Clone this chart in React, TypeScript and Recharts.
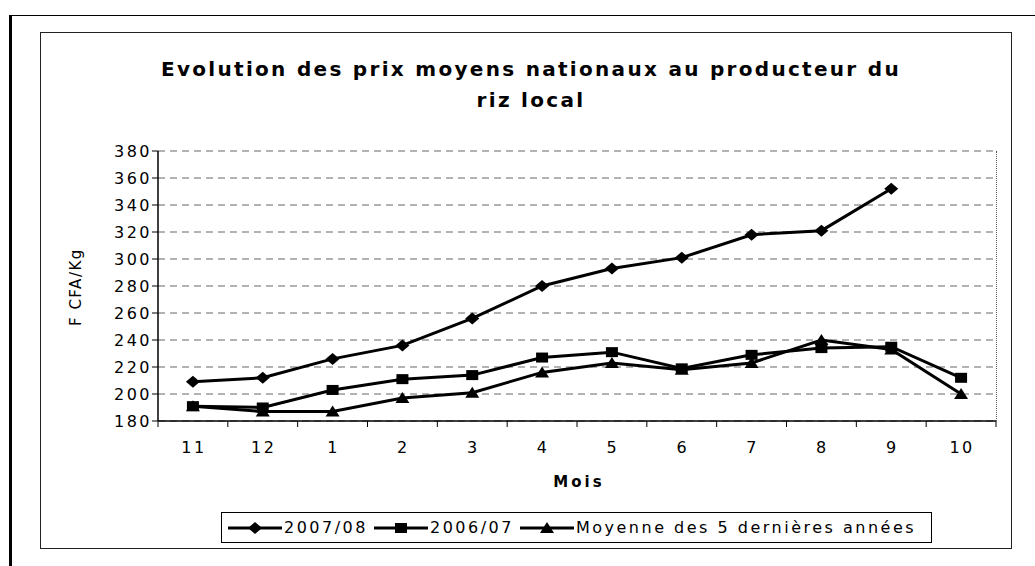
import React from "react";
import { CartesianGrid, Line, LineChart, XAxis, YAxis } from "recharts";

// months of the campaign, November to October
const months = ["11", "12", "1", "2", "3", "4", "5", "6", "7", "8", "9", "10"];
const prix2007_08 = [209, 212, 226, 236, 256, 280, 293, 301, 318, 321, 352, null];
const prix2006_07 = [191, 190, 203, 211, 214, 227, 231, 219, 229, 234, 235, 212];
const moyenne5ans = [191, 187, 187, 197, 201, 216, 223, 218, 223, 240, 233, 200];
const yTicks = [180, 200, 220, 240, 260, 280, 300, 320, 340, 360, 380];

const series = [
  { key: "a", name: "2007/08", values: prix2007_08, marker: "diamond" },
  { key: "b", name: "2006/07", values: prix2006_07, marker: "square" },
  { key: "c", name: "Moyenne des 5 dernières années", values: moyenne5ans, marker: "triangle" },
];

const chartData = months.map((m, i) => {
  const row: Record<string, any> = { mois: m };
  series.forEach((s) => (row[s.key] = s.values[i]));
  return row;
});

const FONT = "'DejaVu Sans', Verdana, sans-serif";
const BAND = 838 / 12;

const Marker = ({ cx, cy, kind }: { cx: number; cy: number; kind: string }) => {
  if (cx == null || cy == null) return null;
  if (kind === "diamond")
    return (
      <polygon
        points={`${cx},${cy - 6} ${cx + 7},${cy} ${cx},${cy + 6} ${cx - 7},${cy}`}
        fill="#000"
      />
    );
  if (kind === "square")
    return <rect x={cx - 6} y={cy - 5} width={12} height={10} fill="#000" />;
  return (
    <polygon
      points={`${cx},${cy - 6} ${cx + 7},${cy + 5} ${cx - 7},${cy + 5}`}
      fill="#000"
    />
  );
};

const dotFor = (kind: string) => (props: any) => (
  <Marker key={`${kind}-${props.index}`} cx={props.cx} cy={props.cy} kind={kind} />
);

// category label in the middle, tick marks on band boundaries like Excel
const MonthTick = (props: any) => {
  const { x, y, payload, index } = props;
  const left = x - BAND / 2;
  return (
    <g>
      <line x1={left} y1={y - 8} x2={left} y2={y - 2} stroke="#000" />
      {index === months.length - 1 && (
        <line x1={x + BAND / 2} y1={y - 8} x2={x + BAND / 2} y2={y - 2} stroke="#000" />
      )}
      <text
        x={x + 1}
        y={y + 24}
        textAnchor="middle"
        fontFamily={FONT}
        fontSize={16}
        letterSpacing={2.5}
        fill="#000"
      >
        {payload.value}
      </text>
    </g>
  );
};

const PriceTick = (props: any) => {
  const { x, y, payload } = props;
  return (
    <text
      x={x + 2}
      y={y + 6}
      textAnchor="end"
      fontFamily={FONT}
      fontSize={16}
      letterSpacing={2.5}
      fill="#000"
    >
      {payload.value}
    </text>
  );
};

const LegendBox = () => (
  <div
    style={{
      position: "absolute",
      left: 221,
      top: 512,
      width: 711,
      height: 31,
      border: "1px solid #000",
      display: "flex",
      alignItems: "center",
      paddingLeft: 6,
      fontFamily: FONT,
      fontSize: 16,
      letterSpacing: 2.5,
      whiteSpace: "nowrap",
      color: "#000",
      boxSizing: "border-box",
    }}
  >
    {series.map((s) => (
      <span key={s.key} style={{ display: "flex", alignItems: "center", marginRight: 6 }}>
        <svg width={54} height={14} style={{ marginRight: 2 }}>
          <line x1={0} y1={7} x2={54} y2={7} stroke="#000" strokeWidth={3} />
          <Marker cx={27} cy={7} kind={s.marker} />
        </svg>
        <span>{s.name}</span>
      </span>
    ))}
  </div>
);

export default function App() {
  return (
    <div
      style={{
        position: "absolute",
        left: 0,
        top: 0,
        width: 1035,
        height: 566,
        background: "#fff",
        overflow: "hidden",
      }}
    >
      {/* page frame */}
      <div style={{ position: "absolute", left: 9, top: 15, width: 1030, height: 560, borderLeft: "3px solid #000", borderTop: "1px solid #000" }} />
      {/* chart frame */}
      <div style={{ position: "absolute", left: 40, top: 32, width: 970, height: 515, border: "1px solid #222" }} />
      {/* title */}
      <div
        style={{
          position: "absolute",
          left: 60,
          top: 54,
          width: 942,
          textAlign: "center",
          fontFamily: FONT,
          fontWeight: "bold",
          fontSize: 20,
          letterSpacing: 2.3,
          lineHeight: "31px",
          color: "#000",
        }}
      >
        Evolution des prix moyens nationaux au producteur du
        <br />
        riz local
      </div>
      {/* plot area right border */}
      <div style={{ position: "absolute", left: 996, top: 151, width: 0, height: 270, borderRight: "1px dotted #555" }} />
      <div style={{ position: "absolute", left: 0, top: 0 }}>
        <LineChart
          width={1035}
          height={566}
          data={chartData}
          margin={{ top: 151, right: 39, left: 100, bottom: 115 }}
        >
          <CartesianGrid vertical={false} stroke="#666" strokeDasharray="7 5" />
          <XAxis
            dataKey="mois"
            type="category"
            padding={{ left: BAND / 2, right: BAND / 2 }}
            axisLine={{ stroke: "#000", strokeWidth: 1.5 }}
            tickLine={false}
            tick={<MonthTick />}
            height={30}
            interval={0}
            label={{
              value: "Mois",
              position: "insideBottom",
              offset: -36,
              dx: 2,
              fontFamily: FONT,
              fontWeight: "bold",
              fontSize: 15,
              letterSpacing: 3,
              fill: "#000",
            }}
          />
          <YAxis
            width={58}
            domain={[180, 380]}
            ticks={yTicks}
            interval={0}
            axisLine={{ stroke: "#000", strokeWidth: 1.5 }}
            tickLine={{ stroke: "#000" }}
            tickSize={6}
            tick={<PriceTick />}
            label={{
              value: "F CFA/Kg",
              angle: -90,
              position: "insideLeft",
              offset: -24,
              dy: 40,
              fontFamily: FONT,
              fontSize: 15,
              letterSpacing: 1.5,
              fill: "#000",
            }}
          />
          {series.map((s) => (
            <Line
              key={s.key}
              type="linear"
              dataKey={s.key}
              name={s.name}
              stroke="#000"
              strokeWidth={3}
              dot={dotFor(s.marker)}
              activeDot={false}
              connectNulls={false}
              isAnimationActive={false}
            />
          ))}
        </LineChart>
      </div>
      <LegendBox />
    </div>
  );
}
